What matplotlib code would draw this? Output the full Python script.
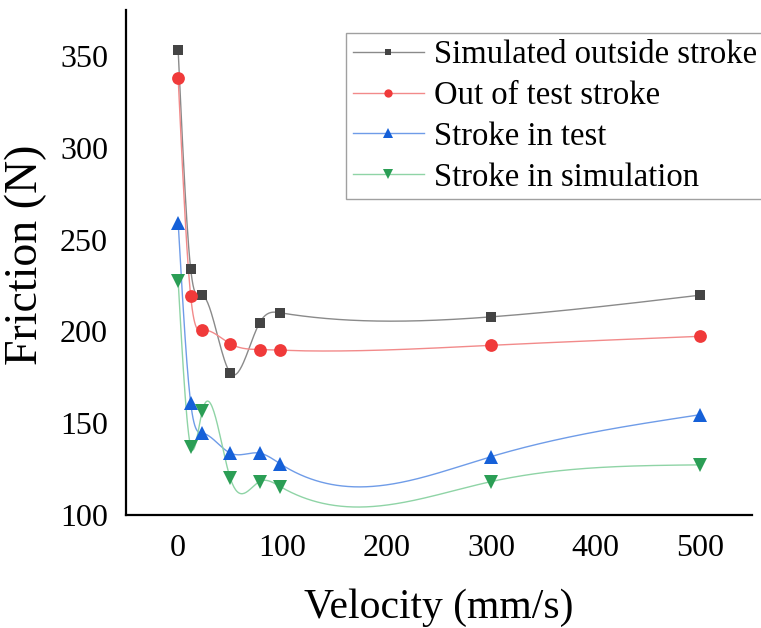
import numpy as np
import matplotlib.pyplot as plt

# data
velocity = [0, 12, 23, 50, 78, 98, 300, 500]
sim_outside = [353, 234, 219.7, 177.3, 204.6, 210.1, 207.9, 219.7]
test_outside = [337.8, 219.2, 200.6, 193.2, 190.1, 189.7, 192.4, 197.3]
test_in = [259.2, 161, 144.6, 133.7, 133.7, 127.8, 131.8, 154.6]
sim_in = [227.3, 137.3, 156.4, 120, 118.2, 115.4, 118.2, 127.3]

series_labels = ["Simulated outside stroke", "Out of test stroke",
                 "Stroke in test", "Stroke in simulation"]


def natural_spline(x, y, n=600):
    """Natural cubic spline through (x, y), evaluated on a dense grid."""
    x = np.asarray(x, float)
    y = np.asarray(y, float)
    k = len(x)
    h = np.diff(x)
    A = np.zeros((k, k))
    b = np.zeros(k)
    A[0, 0] = A[-1, -1] = 1.0
    for i in range(1, k - 1):
        A[i, i - 1] = h[i - 1]
        A[i, i] = 2 * (h[i - 1] + h[i])
        A[i, i + 1] = h[i]
        b[i] = 6 * ((y[i + 1] - y[i]) / h[i] - (y[i] - y[i - 1]) / h[i - 1])
    M = np.linalg.solve(A, b)
    xs = np.linspace(x[0], x[-1], n)
    idx = np.clip(np.searchsorted(x, xs) - 1, 0, k - 2)
    x0, x1 = x[idx], x[idx + 1]
    hh = x1 - x0
    t0 = x1 - xs
    t1 = xs - x0
    ys = (M[idx] * t0 ** 3 / (6 * hh) + M[idx + 1] * t1 ** 3 / (6 * hh)
          + (y[idx] / hh - M[idx] * hh / 6) * t0
          + (y[idx + 1] / hh - M[idx + 1] * hh / 6) * t1)
    return xs, ys


plt.rcParams['font.family'] = ['Liberation Serif', 'DejaVu Serif']

fig = plt.figure(figsize=(7.61, 6.28), dpi=100)
ax = fig.add_axes([126 / 761, 1 - 515 / 628, 626 / 761, 505 / 628])

styles = [
    (sim_outside, "#444444", "#8a8a8a", "s", 7.5),
    (test_outside, "#f03a3a", "#f28a8a", "o", 9.2),
    (test_in, "#1560d8", "#6f9ce8", "^", 10),
    (sim_in, "#2b9e55", "#8fd4a6", "v", 10),
]

for (vals, mcol, lcol, mk, ms), lab in zip(styles, series_labels):
    xs, ys = natural_spline(velocity, vals)
    ax.plot(xs, ys, color=lcol, lw=1.0, zorder=2)
    ax.plot(velocity, vals, ls="none", marker=mk, ms=ms, color=mcol,
            markeredgewidth=0, zorder=3)
    # legend proxy
    ax.plot([], [], color=lcol, lw=1.0, marker=mk, ms=ms * 0.65,
            markerfacecolor=mcol, markeredgewidth=0, label=lab)

ax.set_xlim(-50, 550)
ax.set_ylim(100, 375)
ax.set_xticks([0, 100, 200, 300, 400, 500])
ax.set_yticks([100, 150, 200, 250, 300, 350])
ax.tick_params(length=0, labelsize=23)
ax.tick_params(axis="x", pad=14)
ax.tick_params(axis="y", pad=13)

for side in ["top", "right"]:
    ax.spines[side].set_visible(False)
for side in ["left", "bottom"]:
    ax.spines[side].set_linewidth(1.6)

ax.set_xlabel("Velocity (mm/s)", fontsize=30)
ax.set_ylabel("Friction (N)", fontsize=33)
ax.xaxis.set_label_coords(0.5, -0.145)
ax.yaxis.set_label_coords(-0.126, 0.515)

leg = fig.legend(loc="upper left", bbox_to_anchor=(346 / 761, 1 - 33 / 628),
                 fontsize=23.5, frameon=True, fancybox=False, edgecolor="#888888",
                 handlelength=2.2, handletextpad=0.3, labelspacing=0.32,
                 borderpad=0.2, borderaxespad=0)
leg.get_frame().set_linewidth(1.0)

fig.savefig("out.png", dpi=100)
